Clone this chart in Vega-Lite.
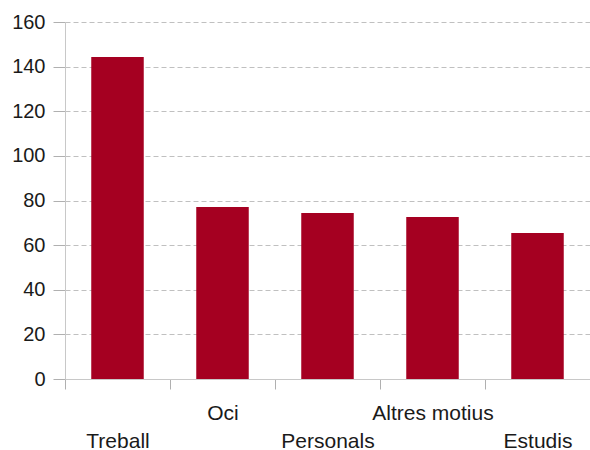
{
  "$schema": "https://vega.github.io/schema/vega-lite/v6.json",
  "width": 525,
  "height": 357,
  "autosize": "none",
  "padding": {"left": 65, "top": 22, "right": 0, "bottom": 71},
  "background": "white",
  "config": {
    "view": {"stroke": null},
    "font": "Liberation Sans",
    "axis": {"labelFont": "Liberation Sans", "labelColor": "#1a1a1a", "labelFontSize": 20}
  },
  "data": {
    "values": [
      {"motiu": "Treball", "valor": 144.3},
      {"motiu": "Oci", "valor": 77.1},
      {"motiu": "Personals", "valor": 74.4},
      {"motiu": "Altres motius", "valor": 72.6},
      {"motiu": "Estudis", "valor": 65.4}
    ]
  },
  "mark": {"type": "bar", "color": "#A50021"},
  "encoding": {
    "x": {
      "field": "motiu",
      "type": "nominal",
      "sort": null,
      "scale": {"paddingInner": 0.5, "paddingOuter": 0.25},
      "axis": {
        "title": null,
        "labelAngle": 0,
        "labelFontSize": 21,
        "tickOffset": -52.5,
        "labelOffset": 52.5,
        "tickSize": 10,
        "tickColor": "#b0b0b0",
        "domainColor": "#c8c8c8",
        "labelBaseline": "alphabetic",
        "labelPadding": 30,
        "labelLineHeight": 28,
        "labelExpr": "indexof(['Oci','Altres motius'], datum.value) >= 0 ? datum.label : [' ', datum.label]"
      }
    },
    "y": {
      "field": "valor",
      "type": "quantitative",
      "scale": {"domain": [0, 160], "nice": false},
      "axis": {
        "title": null,
        "values": [0, 20, 40, 60, 80, 100, 120, 140, 160],
        "tickSize": 12,
        "tickColor": "#b0b0b0",
        "domainColor": "#c8c8c8",
        "labelPadding": 8,
        "gridColor": "#c0c0c0",
        "gridDash": [5, 3],
        "labelBaseline": "middle"
      }
    }
  }
}
